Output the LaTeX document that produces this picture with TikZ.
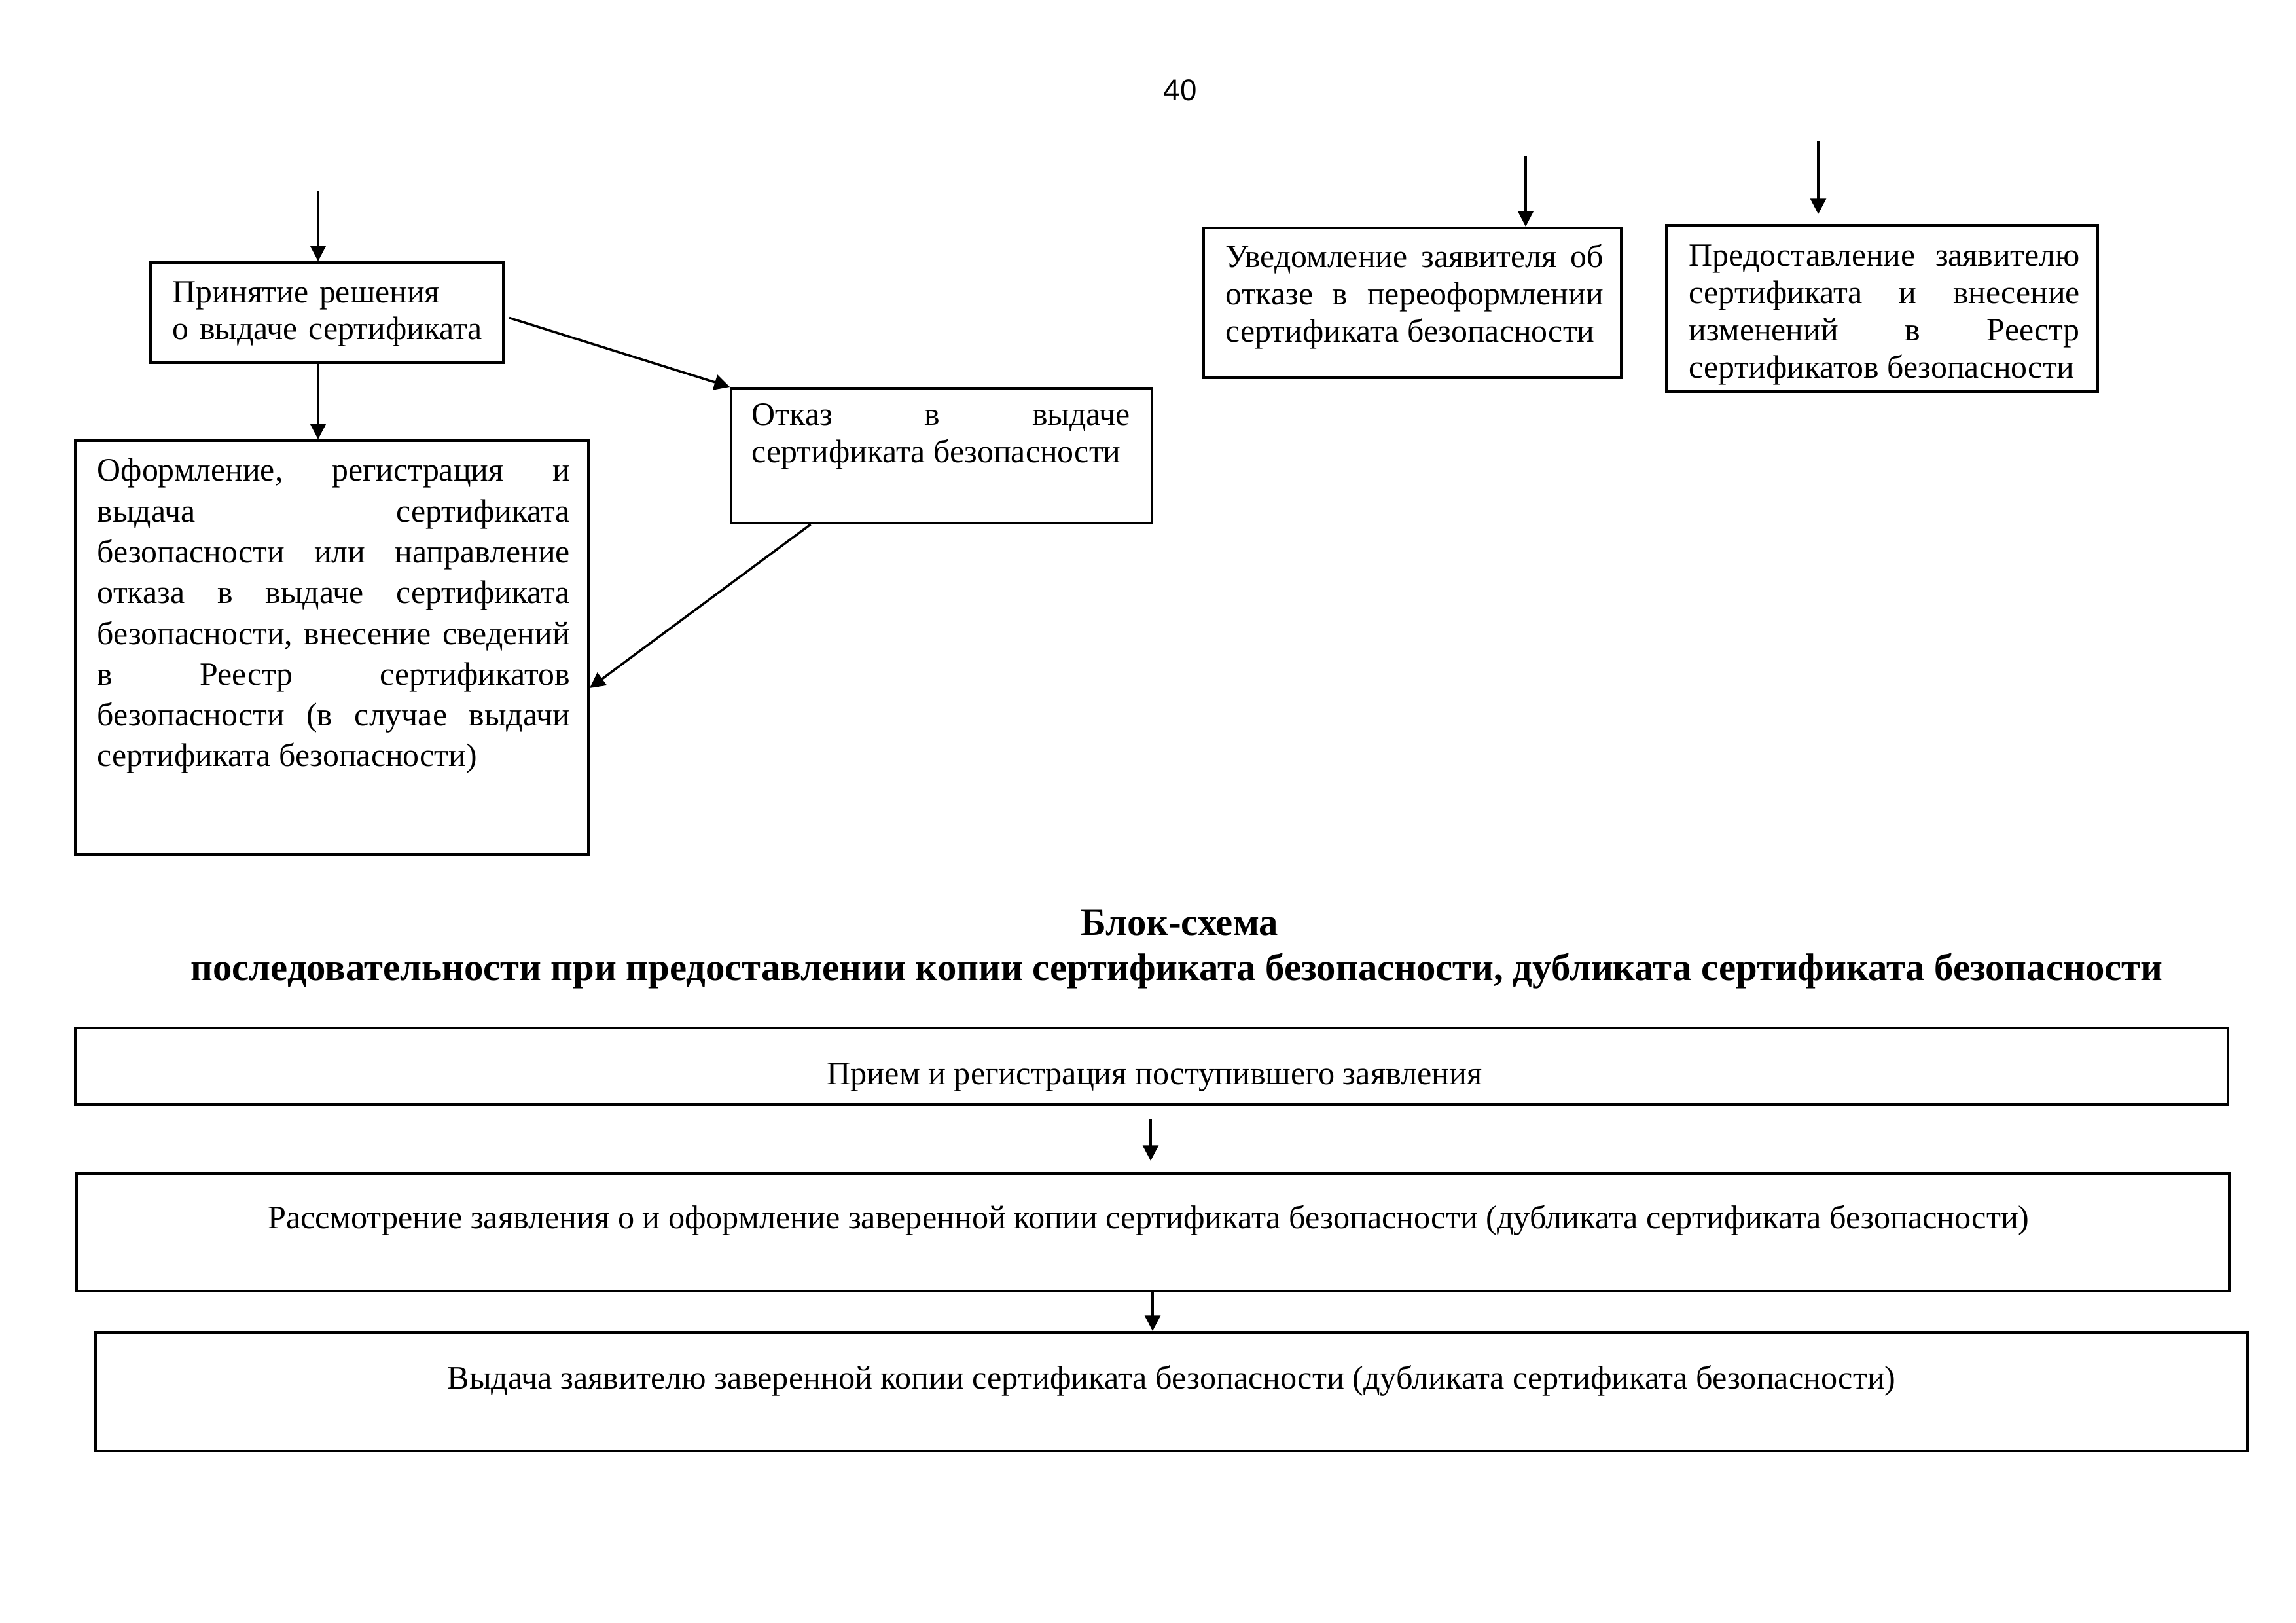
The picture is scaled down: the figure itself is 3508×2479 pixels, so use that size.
\documentclass[tikz,border=0pt]{standalone}
\usepackage{fontspec}
\setmainfont{Liberation Serif}
\newfontfamily\pnfont{Liberation Sans}
\usetikzlibrary{arrows.meta,fit,calc}
\newcommand\nohyph{\hyphenpenalty=10000\relax\tolerance=10000\relax\hbadness=10000\relax}
\begin{document}
\begin{tikzpicture}[x=0.0846667mm, y=-0.0846667mm,
  box/.style={draw, line width=0.95pt, inner sep=0pt},
  arr/.style={line width=0.85pt, -{Triangle[length=2mm,width=2mm]}},
  txt/.style={inner sep=0pt, anchor=base west, align=justify,
    font=\fontsize{12}{13.7}\selectfont\nohyph},
  ctxt/.style={inner sep=0pt, anchor=base, font=\fontsize{12.1}{13.7}\selectfont},
  ttl/.style={inner sep=0pt, anchor=base, font=\fontsize{14.15}{16}\selectfont\bfseries}]
\useasboundingbox (0,0) rectangle (3508,2479);
\fill[white] (0,0) rectangle (3508,2479);

% page number
\node[inner sep=0pt, anchor=base, font=\pnfont\fontsize{11}{13}\selectfont] (pn) at (1803,154) {40};

% boxes of the upper part
\node[box, fit={(230,401) (769,554)}] (A) {};
\node[box, fit={(115,673) (899,1305)}] (B) {};
\node[box, fit={(1117,593) (1760,799)}] (C) {};
\node[box, fit={(1839,348) (2477,577)}] (D) {};
\node[box, fit={(2546,344) (3205,598)}] (E) {};

\node[txt, text width=55mm, align=left, font=\fontsize{12}{13.3}\selectfont\nohyph] (tA) at (263,463)
  {Принятие решения\\о выдаче сертификата};
\node[txt, text width=61.13mm, font=\fontsize{12}{15}\selectfont\nohyph] (tB) at (148,735)
  {Оформление,~регистрация~и\linebreak
   выдача~сертификата\linebreak
   безопасности~или~направление\linebreak
   отказа~в~выдаче~сертификата\linebreak
   безопасности,~внесение~сведений\linebreak
   в~Реестр~сертификатов\linebreak
   безопасности~(в~случае~выдачи\linebreak
   сертификата безопасности)};
\node[txt, text width=48.94mm] (tC) at (1148,650)
  {Отказ~в~выдаче\linebreak
   сертификата безопасности};
\node[txt, text width=48.85mm] (tD) at (1872,409)
  {Уведомление~заявителя~об\linebreak
   отказе~в~переоформлении\linebreak
   сертификата безопасности};
\node[txt, text width=50.55mm] (tE) at (2580,407)
  {Предоставление~заявителю\linebreak
   сертификата~и~внесение\linebreak
   изменений~в~Реестр\linebreak
   сертификатов~безопасности};

% connectors of the upper part
\coordinate (a0) at (486,292);
\coordinate (d0) at (2331,238);
\coordinate (e0) at (2778,216);
\coordinate (e1) at (2778,327);
\draw[arr] (a0) -- (a0 |- A.north);
\draw[arr] (a0 |- A.south) -- (a0 |- B.north);
\draw[arr] ([shift={(7,8)}]A.east) -- (C.north west);
\draw[arr] ([shift={(-200,0)}]C.south) -- ([shift={(0,62)}]B.east);
\draw[arr] (d0) -- (d0 |- D.north);
\draw[arr] (e0) -- (e1);

% title
\node[ttl] (t1) at (1802,1428) {Блок-схема};
\node[ttl] (t2) at (1798,1497) {последовательности при предоставлении копии сертификата безопасности, дубликата сертификата безопасности};

% lower boxes
\node[box, fit={(115,1570) (3404,1687)}] (F) {};
\node[box, fit={(117,1792) (3406,1972)}] (G) {};
\node[box, fit={(146,2035) (3434,2216)}] (H) {};
\node[ctxt] (tF) at (1764,1656) {Прием и регистрация поступившего заявления};
\node[ctxt] (tG) at (1755,1876) {Рассмотрение заявления о и оформление заверенной копии сертификата безопасности (дубликата сертификата безопасности)};
\node[ctxt] (tH) at (1790,2121) {Выдача заявителю заверенной копии сертификата безопасности (дубликата сертификата безопасности)};

\coordinate (f0) at (1758,1709);
\coordinate (f1) at (1758,1773);
\coordinate (g0) at (1761,1972);
\draw[arr] (f0) -- (f1);
\draw[arr] (g0) -- (g0 |- H.north);
\end{tikzpicture}
\end{document}
